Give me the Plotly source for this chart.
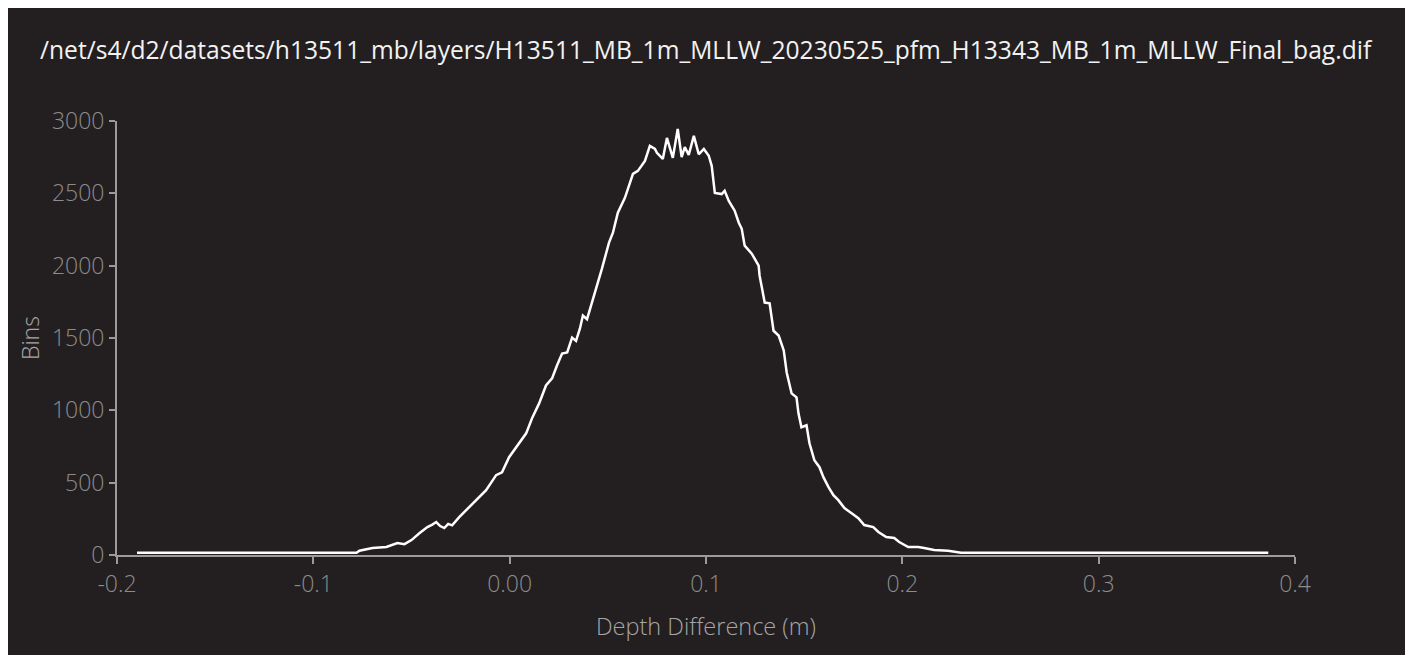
import plotly.graph_objects as go

# Depth difference (m) and bin counts
depth = [-0.1898, -0.0780, -0.0765, -0.0699, -0.0628, -0.0572, -0.0536, -0.0500, -0.0460,
         -0.0419, -0.0394, -0.0374, -0.0354, -0.0333, -0.0313, -0.0293, -0.0257, -0.0206,
         -0.0171, -0.0120, -0.0069, -0.0039, -0.0003, 0.0033, 0.0084, 0.0114, 0.0150,
         0.0185, 0.0216, 0.0241, 0.0267, 0.0293, 0.0318, 0.0338, 0.0358, 0.0373, 0.0394,
         0.0419, 0.0450, 0.0470, 0.0506, 0.0516, 0.0526, 0.0551, 0.0577, 0.0587, 0.0628,
         0.0653, 0.0689, 0.0714, 0.0740, 0.0750, 0.0780, 0.0801, 0.0831, 0.0856, 0.0876,
         0.0892, 0.0912, 0.0938, 0.0963, 0.0989, 0.1014, 0.1029, 0.1045, 0.1080, 0.1095,
         0.1116, 0.1146, 0.1167, 0.1182, 0.1197, 0.1233, 0.1268, 0.1273, 0.1299, 0.1324,
         0.1344, 0.1370, 0.1396, 0.1411, 0.1436, 0.1461, 0.1471, 0.1486, 0.1512, 0.1527,
         0.1552, 0.1578, 0.1598, 0.1624, 0.1649, 0.1674, 0.1705, 0.1740, 0.1776, 0.1806,
         0.1852, 0.1878, 0.1918, 0.1959, 0.1984, 0.2030, 0.2081, 0.2111, 0.2162, 0.2233,
         0.2299, 0.3864]
bins = [15, 15, 30, 48, 55, 83, 75, 103, 150,
        193, 210, 228, 200, 186, 215, 205, 262, 331,
        379, 448, 552, 572, 676, 745, 841, 945, 1048,
        1172, 1221, 1310, 1393, 1400, 1503, 1480, 1566, 1655, 1630,
        1745, 1883, 1979, 2159, 2193, 2228, 2366, 2435, 2469, 2634,
        2655, 2724, 2828, 2807, 2780, 2738, 2883, 2745, 2945, 2750,
        2820, 2765, 2897, 2770, 2807, 2760, 2690, 2503, 2495, 2517,
        2448, 2380, 2297, 2255, 2138, 2083, 2000, 1931, 1745, 1740,
        1550, 1517, 1414, 1262, 1117, 1090, 979, 883, 897, 772,
        655, 607, 538, 469, 414, 379, 324, 290, 255, 207,
        193, 159, 124, 117, 90, 55, 55, 48, 34, 30,
        15, 15]

x_ticks = [-0.2, -0.1, 0.0, 0.1, 0.2, 0.3, 0.4]
x_tick_labels = ["-0.2", "-0.1", "0.00", "0.1", "0.2", "0.3", "0.4"]
y_ticks = [0, 500, 1000, 1500, 2000, 2500, 3000]

title_text = "/net/s4/d2/datasets/h13511_mb/layers/H13511_MB_1m_MLLW_20230525_pfm_H13343_MB_1m_MLLW_Final_bag.dif"

BG = "#231f20"
AXIS = "#9b9b9b"
TICK = "#8c8c8c"
FONT = "Open Sans"

fig = go.Figure()
fig.add_trace(go.Scatter(
    x=depth, y=bins, mode="lines",
    line=dict(color="#ffffff", width=2.5),
    hoverinfo="skip", showlegend=False,
))

W, H = 1399, 647
L, R, T, B = 109, 112, 113, 100

fig.update_layout(
    width=W, height=H,
    paper_bgcolor=BG, plot_bgcolor=BG,
    margin=dict(l=L, r=R, t=T, b=B, autoexpand=False),
    showlegend=False,
    title=dict(text=title_text, x=32 / W, xref="container", xanchor="left",
               y=1 - 42 / H, yref="container", yanchor="middle",
               font=dict(family=FONT, size=24.6, color="#f2f2f2")),
    xaxis=dict(range=[-0.2, 0.4], tickvals=x_ticks, ticktext=x_tick_labels,
               showgrid=False, zeroline=False, showline=True, linecolor=AXIS, linewidth=2,
               ticks="outside", ticklen=7, tickwidth=2, tickcolor=AXIS,
               tickfont=dict(family=FONT, size=23, color=TICK, weight=300)),
    yaxis=dict(range=[0, 3000], tickvals=y_ticks,
               showgrid=False, zeroline=False, showline=True, linecolor=AXIS, linewidth=2,
               ticks="outside", ticklen=6, tickwidth=2, tickcolor=AXIS,
               tickfont=dict(family=FONT, size=23, color=TICK, weight=300)),
    annotations=[
        dict(text="Depth Difference (m)", xref="paper", yref="paper", x=0.5, y=0,
             yshift=-71, xanchor="center", yanchor="middle", showarrow=False,
             font=dict(family=FONT, size=23.5, color="#a6a6a6", weight=300)),
        dict(text="Bins", xref="paper", yref="paper", x=0, y=0.5, xshift=-87,
             xanchor="center", yanchor="middle", textangle=-90, showarrow=False,
             font=dict(family=FONT, size=23, color="#a6a6a6", weight=300)),
    ],
)

fig.write_html("out.html")
